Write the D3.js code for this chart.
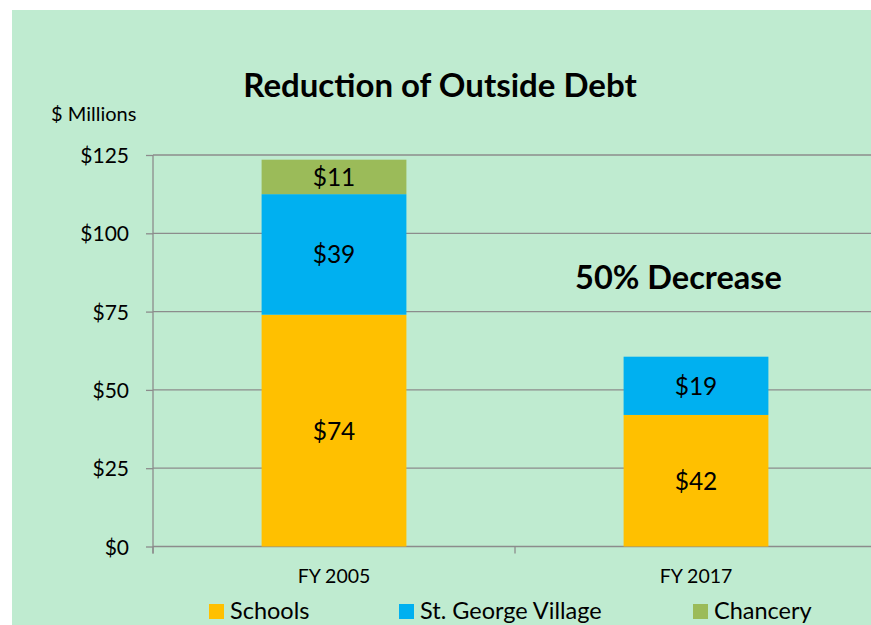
<!DOCTYPE html>
<html>
<head>
<meta charset="utf-8">
<script src="https://cdn.jsdelivr.net/npm/d3@7"></script>
<style>
  body { margin: 0; background: #fff; }
  text { font-family: Lato, "Open Sans", sans-serif; fill: #000; }
</style>
</head>
<body>
<svg></svg>
<script>
var categories = ['FY 2005', 'FY 2017'];
var seriesNames = ['Schools', 'St. George Village', 'Chancery'];
var schools = [74, 42];
var stGeorge = [38.5, 18.6];
var chancery = [11, 0];
var yTicks = [0, 25, 50, 75, 100, 125];
var colors = ['#FFC000', '#00B0F0', '#9BBB59'];

var size = { w: 871, h: 625 };
var plot = { left: 153, right: 877, top: 155, bottom: 546.5 };

var svg = d3.select('svg')
    .attr('width', size.w)
    .attr('height', size.h);

svg.append('rect')
    .attr('x', 12).attr('y', 10)
    .attr('width', size.w - 12).attr('height', size.h - 10)
    .attr('fill', '#BFEBD0');

var rows = categories.map((c, i) => ({ cat: c, Schools: schools[i], 'St. George Village': stGeorge[i], Chancery: chancery[i] }));
var stacked = d3.stack().keys(seriesNames)(rows);

var x = d3.scaleBand().domain(categories).range([plot.left, plot.right])
    .paddingInner(0.6).paddingOuter(0.3);
var y = d3.scaleLinear().domain([0, 125]).range([plot.bottom, plot.top]);

// gridlines
svg.append('g')
    .selectAll('line')
    .data(yTicks)
    .enter()
    .append('line')
    .attr('x1', plot.left).attr('x2', plot.right)
    .attr('y1', d => y(d)).attr('y2', d => y(d))
    .attr('stroke', '#8c8c8c').attr('stroke-width', 1.3);

// y axis
var yAxis = d3.axisLeft(y).tickValues(yTicks).tickSize(7).tickPadding(17)
    .tickFormat(d => '$' + d);
var yg = svg.append('g')
    .attr('transform', `translate(${plot.left},0)`)
    .call(yAxis);
yg.select('.domain').attr('stroke', '#8c8c8c').attr('stroke-width', 1.3).attr('d', `M0,${plot.top}V${plot.bottom + 7}`);
yg.selectAll('.tick line').attr('stroke', '#8c8c8c').attr('stroke-width', 1.3);
yg.selectAll('.tick text').attr('font-size', 21).attr('font-family', 'Lato').attr('dy', '0.36em');

// x axis: category boundary ticks
var step = x.step();
var bounds = [plot.left, plot.left + step, plot.left + 2 * step];
svg.append('g')
    .selectAll('line')
    .data(bounds)
    .enter()
    .append('line')
    .attr('x1', d => d).attr('x2', d => d)
    .attr('y1', plot.bottom).attr('y2', plot.bottom + 7)
    .attr('stroke', '#8c8c8c').attr('stroke-width', 1.3);

svg.append('g')
    .selectAll('text')
    .data(categories)
    .enter()
    .append('text')
    .attr('x', d => x(d) + x.bandwidth() / 2)
    .attr('y', 583)
    .attr('text-anchor', 'middle')
    .attr('font-size', 19.5)
    .text(d => d);

// bars
var layer = svg.selectAll('g.layer')
    .data(stacked)
    .enter()
    .append('g')
    .attr('class', 'layer')
    .attr('fill', (d, i) => colors[i]);

layer.selectAll('rect')
    .data(d => d.filter(p => p[1] > p[0]))
    .enter()
    .append('rect')
    .attr('x', d => x(d.data.cat))
    .attr('y', d => y(d[1]))
    .attr('width', x.bandwidth())
    .attr('height', d => y(d[0]) - y(d[1]));

layer.selectAll('text')
    .data(d => d.filter(p => p[1] > p[0]))
    .enter()
    .append('text')
    .attr('x', d => x(d.data.cat) + x.bandwidth() / 2)
    .attr('y', d => (y(d[0]) + y(d[1])) / 2 + 9)
    .attr('text-anchor', 'middle')
    .attr('font-size', 24.5)
    .text(d => '$' + Math.round(d[1] - d[0]));

// titles
svg.append('text')
    .attr('x', 440).attr('y', 97)
    .attr('text-anchor', 'middle')
    .attr('font-size', 33).attr('font-weight', 'bold')
    .text('Reduction of Outside Debt');

svg.append('text')
    .attr('x', 51).attr('y', 121)
    .attr('font-size', 20)
    .text('$ Millions');

svg.append('text')
    .attr('x', 678.5).attr('y', 289)
    .attr('text-anchor', 'middle')
    .attr('font-size', 32.5).attr('font-weight', 'bold')
    .text('50% Decrease');

// legend
var legendX = [209, 399, 693];
var legend = svg.selectAll('g.legend')
    .data(seriesNames)
    .enter()
    .append('g')
    .attr('class', 'legend')
    .attr('transform', (d, i) => `translate(${legendX[i]},604)`);

legend.append('rect')
    .attr('width', 15).attr('height', 15)
    .attr('fill', (d, i) => colors[i]);

legend.append('text')
    .attr('x', 21).attr('y', 15)
    .attr('font-size', 23.5)
    .text(d => d);
</script>
</body>
</html>
